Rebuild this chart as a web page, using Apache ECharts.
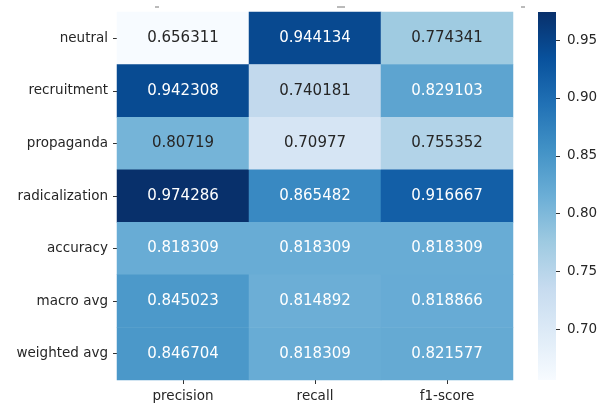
<!DOCTYPE html>
<html>
<head>
<meta charset="utf-8">
<script src="https://cdn.jsdelivr.net/npm/echarts@6/dist/echarts.min.js"></script>
<style>
html,body{margin:0;padding:0;background:#fff;}
#c{width:605px;height:410px;}
</style>
</head>
<body>
<div id="c"></div>
<script>
var rowLabels = ['neutral','recruitment','propaganda','radicalization','accuracy','macro avg','weighted avg'];
var colLabels = ['precision','recall','f1-score'];
var precision = [0.656311, 0.942308, 0.80719, 0.974286, 0.818309, 0.845023, 0.846704];
var recall    = [0.944134, 0.740181, 0.70977, 0.865482, 0.818309, 0.814892, 0.818309];
var f1score   = [0.774341, 0.829103, 0.755352, 0.916667, 0.818309, 0.818866, 0.821577];
var cbTicks = [0.70, 0.75, 0.80, 0.85, 0.90, 0.95];

var blues = ['#f7fbff','#deebf7','#c6dbef','#9ecae1','#6baed6','#4292c6','#2171b5','#08519c','#08306b'];
var cols = [precision, recall, f1score];
var all = precision.concat(recall, f1score);
var vmin = Math.min.apply(null, all), vmax = Math.max.apply(null, all);
var mid = (vmin + vmax) / 2 - 0.003;

var data = [];
for (var c = 0; c < cols.length; c++) {
  for (var r = 0; r < rowLabels.length; r++) {
    var v = cols[c][r];
    data.push({
      value: [c, r, v],
      label: { color: v > mid ? '#ffffff' : '#262626' }
    });
  }
}

var FONT = 'DejaVu Sans';
var chart = echarts.init(document.getElementById('c'), null, {renderer: 'canvas'});
var stops = blues.map(function (col, i) { return {offset: 1 - i / (blues.length - 1), color: col}; });

chart.setOption({
  animation: false,
  backgroundColor: '#ffffff',
  textStyle: {fontFamily: FONT},
  grid: [
    {left: 117, top: 12, width: 396, height: 368, containLabel: false},
    {left: 538, top: 12, width: 18, height: 368, containLabel: false}
  ],
  xAxis: [
    {
      type: 'category', data: colLabels, gridIndex: 0, position: 'bottom',
      axisLine: {show: false},
      axisTick: {show: true, alignWithLabel: true, length: 4, lineStyle: {color: '#333', width: 1}},
      axisLabel: {fontFamily: FONT, fontSize: 13.5, color: '#262626', margin: 9},
      splitLine: {show: false}
    },
    {type: 'category', data: ['cb'], gridIndex: 1, show: false}
  ],
  yAxis: [
    {
      type: 'category', data: rowLabels, gridIndex: 0, inverse: true,
      axisLine: {show: false},
      axisTick: {show: true, alignWithLabel: true, length: 4, lineStyle: {color: '#333', width: 1}},
      axisLabel: {fontFamily: FONT, fontSize: 13.5, color: '#262626', margin: 9},
      splitLine: {show: false}
    },
    {
      type: 'value', gridIndex: 1, position: 'right', min: vmin, max: vmax,
      axisLine: {show: false},
      splitLine: {show: false},
      axisTick: {show: true, length: 4, customValues: cbTicks, lineStyle: {color: '#333', width: 1}},
      axisLabel: {fontFamily: FONT, fontSize: 13.5, color: '#262626', margin: 11,
        customValues: cbTicks, formatter: function (v) { return Number(v).toFixed(2); }}
    }
  ],
  visualMap: {
    show: false, type: 'continuous', min: vmin, max: vmax, dimension: 2, seriesIndex: 0,
    inRange: {color: blues}
  },
  graphic: [
    {type: 'rect', left: 538, top: 12, z: 0, silent: true,
      shape: {width: 18, height: 368},
      style: {fill: new echarts.graphic.LinearGradient(0, 0, 0, 1, stops)}},
    {type: 'line', silent: true, shape: {x1: 155, y1: 7, x2: 159, y2: 7}, style: {stroke: '#777', lineWidth: 1}},
    {type: 'line', silent: true, shape: {x1: 337, y1: 7, x2: 345, y2: 7}, style: {stroke: '#777', lineWidth: 1}},
    {type: 'line', silent: true, shape: {x1: 521, y1: 7, x2: 525, y2: 7}, style: {stroke: '#777', lineWidth: 1}}
  ],
  series: [{
    type: 'heatmap',
    xAxisIndex: 0, yAxisIndex: 0,
    data: data,
    itemStyle: {borderWidth: 0},
    label: {
      show: true, fontFamily: FONT, fontSize: 15,
      formatter: function (p) { return String(p.value[2]); }
    },
    emphasis: {disabled: true}
  }]
});
</script>
</body>
</html>
